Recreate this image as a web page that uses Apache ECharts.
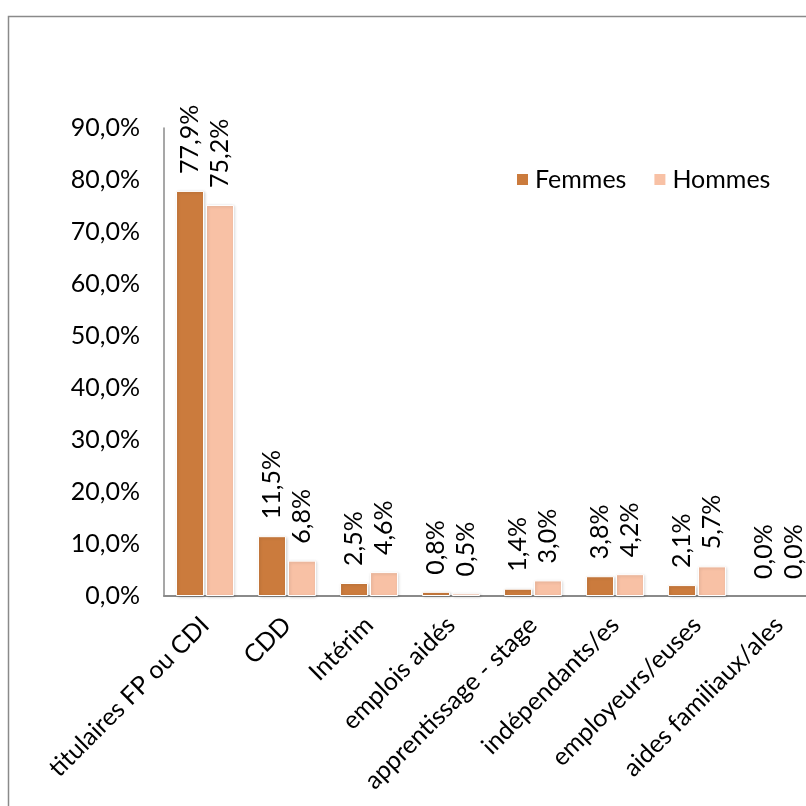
<!DOCTYPE html>
<html>
<head>
<meta charset="utf-8">
<script src="https://cdn.jsdelivr.net/npm/echarts@6/dist/echarts.min.js"></script>
<style>
  html, body { margin: 0; padding: 0; background: #ffffff; }
  #chart { width: 806px; height: 806px; }
</style>
</head>
<body>
<div id="chart"></div>
<script>
// Statut d'emploi par sexe (en %)
const categories = [
  'titulaires FP ou CDI', 'CDD', 'Intérim', 'emplois aidés',
  'apprentissage - stage', 'indépendants/es', 'employeurs/euses', 'aides familiaux/ales'
];
const femmes = [77.9, 11.5, 2.5, 0.8, 1.4, 3.8, 2.1, 0.0];
const hommes = [75.2, 6.8, 4.6, 0.5, 3.0, 4.2, 5.7, 0.0];
const yTicks = { min: 0, max: 90, interval: 10 };

const FONT = 'Lato, "Open Sans", sans-serif';
const FS = 25;
const pct = v => Number(v).toFixed(1).replace('.', ',') + '%';

const chart = echarts.init(document.getElementById('chart'), null, { renderer: 'canvas' });

const barLabel = {
  show: true,
  position: 'top',
  rotate: 90,
  align: 'left',
  verticalAlign: 'middle',
  distance: 17,
  fontFamily: FONT,
  fontSize: FS,
  color: '#000000',
  formatter: p => pct(p.value)
};

const barStyle = color => ({
  color: color,
  borderColor: '#ffffff',
  borderWidth: 1,
  shadowBlur: 3,
  shadowColor: 'rgba(0,0,0,0.18)',
  shadowOffsetX: 1,
  shadowOffsetY: 1
});

// zero-height bars keep only their label, no shadow smudge
const toItems = arr => arr.map(v => v === 0
  ? { value: v, itemStyle: { shadowBlur: 0, shadowOffsetX: 0, shadowOffsetY: 0, borderWidth: 0, shadowColor: 'transparent' } }
  : { value: v });

chart.setOption({
  backgroundColor: '#ffffff',
  animation: false,
  graphic: [{
    type: 'rect',
    left: 6, top: 14,
    shape: { width: 900, height: 900 },
    style: { fill: 'none', stroke: '#8a8a8a', lineWidth: 1.5 },
    silent: true,
    z: -1
  }],
  legend: {
    left: 510, top: 162,
    itemWidth: 13, itemHeight: 13,
    itemGap: 26,
    icon: 'rect',
    textStyle: { fontFamily: FONT, fontSize: FS, color: '#000000', padding: [0, 0, 0, 1] },
    data: ['Femmes', 'Hommes']
  },
  grid: {
    left: 164, top: 128, width: 656, bottom: 210,
    containLabel: false,
    outerBoundsMode: 'none'
  },
  xAxis: {
    type: 'category',
    data: categories,
    axisLine: { show: true, lineStyle: { color: '#8a8a8a', width: 2 } },
    axisTick: { show: false },
    axisLabel: {
      interval: 0,
      rotate: 45,
      margin: 25,
      fontFamily: FONT,
      fontSize: FS,
      color: '#000000'
    }
  },
  yAxis: {
    type: 'value',
    min: yTicks.min, max: yTicks.max, interval: yTicks.interval,
    axisLine: { show: true, lineStyle: { color: '#8a8a8a', width: 1.5 } },
    axisTick: { show: false },
    splitLine: { show: false },
    axisLabel: {
      margin: 24,
      fontFamily: FONT,
      fontSize: FS,
      color: '#000000',
      formatter: v => pct(v)
    }
  },
  series: [
    {
      name: 'Femmes', type: 'bar', data: toItems(femmes),
      barWidth: 28, barGap: '7%',
      itemStyle: barStyle('#CB7B3D'),
      label: barLabel
    },
    {
      name: 'Hommes', type: 'bar', data: toItems(hommes),
      barWidth: 28,
      itemStyle: barStyle('#F8C1A5'),
      label: barLabel
    }
  ]
});
</script>
</body>
</html>
